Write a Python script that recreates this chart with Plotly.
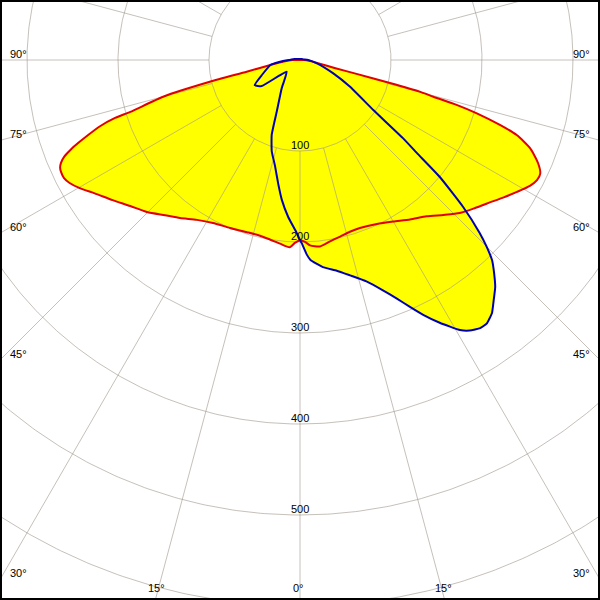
import numpy as np
import plotly.graph_objects as go

# ---------------- data (luminous intensity, cd/klm) ----------------
# gamma in degrees measured from nadir; "left" = left half-plane, "right" = right half-plane
RED_GAMMA_LEFT = [0, 1.6, 3.1, 6.2, 9.5, 12.8, 17.1, 22.6, 28.1, 32.8, 37.2, 41, 45.2, 49.3,
                  53.2, 57, 59.8, 61.9, 63.4, 64.9, 65.8, 66.7, 67.7, 68.6, 69.5, 70.5, 71.7,
                  72.6, 73, 75, 76.4, 77.6, 80.5, 85, 90, 100, 180]
RED_I_LEFT = [198, 201, 206, 203, 200, 198, 198, 200, 203, 209, 218, 226, 237, 246,
              257, 269, 280, 287, 290, 290, 289, 286, 280, 271, 260, 247, 231,
              213, 195, 155, 102, 60, 33, 18, 8, 0, 0]
RED_GAMMA_RIGHT = [0, 1.6, 3.1, 6.1, 9.4, 12.8, 16.2, 19.6, 25.1, 30, 34.6, 39, 42.8, 46.2,
                   49.4, 52.5, 56, 58.7, 61.3, 63.1, 64.7, 66.6, 69, 70.9, 72, 73.2, 74,
                   74.6, 75.2, 75.7, 76.2, 77, 80, 85, 90, 100, 180]
RED_I_RIGHT = [198, 200, 204, 206, 202, 199, 196.5, 196, 199, 205, 213, 221, 232, 243,
               251, 259, 270, 279, 288, 292, 292, 285, 271, 252, 231, 203, 179,
               152, 136, 102, 64, 40, 20, 10, 4, 0, 0]

BLUE_GAMMA_LEFT = [0, 1.1, 4.3, 7.4, 10, 13.4, 17.2, 20.7, 24.3, 32.9, 48.7, 55.8, 61, 68.5,
                   80.5, 85, 90, 100, 120, 180]
BLUE_I_LEFT = [198, 190, 173, 155, 138, 119, 105, 88, 62, 37, 19.5, 51, 57, 45,
               33, 22, 12, 6, 2, 1]
BLUE_GAMMA_RIGHT = [0, 0.5, 2, 3, 6.3, 9.9, 13.1, 16.7, 19.8, 22.1, 24, 25.8, 28, 30.65,
                    32.1, 33.9, 35.3, 37.2, 38.9, 40.7, 42.3, 43.8, 45, 46.1, 48, 50.1, 51.5,
                    52.8, 55.7, 61.9, 68.2, 78.8, 90, 100, 120, 180]
BLUE_I_RIGHT = [198, 201, 214, 220, 229, 235, 243, 254, 269, 283, 297, 311, 327, 345,
                351, 355, 355, 349, 339, 329, 317, 305, 290, 274, 241, 200, 164,
                142, 97.5, 62, 39, 19, 9, 4, 2, 1]

CIRCLE_VALUES = [100, 200, 300, 400, 500, 600, 700]
CIRCLE_LABELS = ["100", "200", "300", "400", "500"]
RAY_ANGLES = list(range(0, 360, 15))
ANGLE_LABELS_SIDE = [90, 75, 60, 45, 30]
ANGLE_LABELS_BOTTOM = [15, 0]

# ---------------- geometry ----------------
PX = 0.91            # pixels per intensity unit
W, H = 600, 600
CX, CY = 300, 60     # pole position in pixels
XMIN, XMAX = -CX / PX, (W - CX) / PX
YMIN, YMAX = -(H - CY) / PX, CY / PX


def curve_xy(gl, il, gr, ir):
    g = [-a for a in gl[::-1]] + list(gr[1:])
    r = list(il[::-1]) + list(ir[1:])
    g = np.radians(np.array(g, dtype=float))
    r = np.array(r, dtype=float)
    return r * np.sin(g), -r * np.cos(g)


rx, ry = curve_xy(RED_GAMMA_LEFT, RED_I_LEFT, RED_GAMMA_RIGHT, RED_I_RIGHT)
bx, by = curve_xy(BLUE_GAMMA_LEFT, BLUE_I_LEFT, BLUE_GAMMA_RIGHT, BLUE_I_RIGHT)

RED_SHAPE = dict(shape="spline", smoothing=0.6)
BLUE_SHAPE = dict(shape="spline", smoothing=0.4)

fig = go.Figure()
YELLOW = "#ffff00"
for x, y, shp in [(rx, ry, RED_SHAPE), (bx, by, BLUE_SHAPE)]:
    fig.add_trace(go.Scatter(x=x, y=y, mode="lines", fill="toself", fillcolor=YELLOW,
                             line=dict(width=0, color=YELLOW, **shp), hoverinfo="skip"))

GRID = "rgba(160,150,140,0.6)"
t = np.linspace(0, 2 * np.pi, 721)
for c in CIRCLE_VALUES:
    fig.add_trace(go.Scatter(x=c * np.sin(t), y=-c * np.cos(t), mode="lines",
                             line=dict(color=GRID, width=1), hoverinfo="skip"))
for a in RAY_ANGLES:
    ar = np.radians(a)
    rr = np.array([100, 900])
    fig.add_trace(go.Scatter(x=rr * np.sin(ar), y=-rr * np.cos(ar), mode="lines",
                             line=dict(color=GRID, width=1), hoverinfo="skip"))

fig.add_trace(go.Scatter(x=rx, y=ry, mode="lines",
                         line=dict(color="#e00000", width=2, **RED_SHAPE),
                         hoverinfo="skip"))
fig.add_trace(go.Scatter(x=bx, y=by, mode="lines",
                         line=dict(color="#0000b4", width=2, **BLUE_SHAPE),
                         hoverinfo="skip"))

FONT = dict(family="Arial, Liberation Sans, sans-serif", size=11, color="black")
ann = []
for lab in CIRCLE_LABELS:
    v = float(lab)
    ann.append(dict(x=0, y=-v + 6 / PX, text=lab, showarrow=False, xanchor="center",
                    yanchor="middle", font=FONT))
for a in ANGLE_LABELS_SIDE:
    ar = np.radians(a)
    yv = XMIN * np.cos(ar) / np.sin(ar)  # ray meets side edge
    ylab = yv + 6.5 / PX
    ann.append(dict(x=XMIN + 8 / PX, y=ylab, text=f"{a}°", showarrow=False, xanchor="left",
                    yanchor="middle", font=FONT))
    ann.append(dict(x=XMAX - 8 / PX, y=ylab, text=f"{a}°", showarrow=False, xanchor="right",
                    yanchor="middle", font=FONT))
for a in ANGLE_LABELS_BOTTOM:
    ar = np.radians(a)
    xv = -YMIN * np.tan(ar)
    ylab = YMIN + 12 / PX
    for s in ([-1, 1] if a else [1]):
        ann.append(dict(x=s * xv - (1.5 / PX) * s, y=ylab, text=f"{a}°", showarrow=False,
                        xanchor="center", yanchor="middle", font=FONT))

fig.update_layout(
    width=W, height=H, margin=dict(l=0, r=0, t=0, b=0),
    paper_bgcolor="white", plot_bgcolor="white", showlegend=False,
    xaxis=dict(range=[XMIN, XMAX], visible=False, fixedrange=True),
    yaxis=dict(range=[YMIN, YMAX], visible=False, fixedrange=True),
    annotations=ann,
    shapes=[dict(type="rect", xref="paper", yref="paper", x0=0, x1=1, y0=0, y1=1,
                 line=dict(color="black", width=4), layer="above")],
)
fig.write_html("out.html", config={"displayModeBar": False},
               post_script="document.body.style.margin='0';")
